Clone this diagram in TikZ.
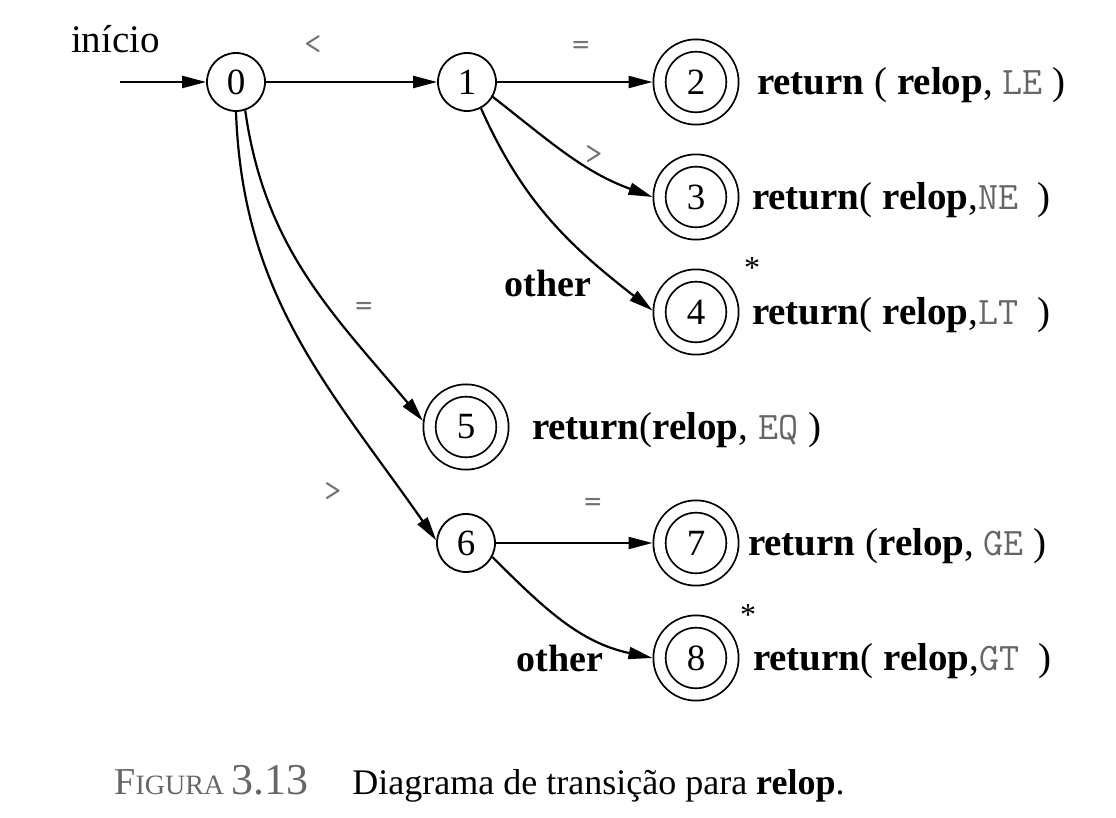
\documentclass[tikz,border=0pt]{standalone}
\usepackage{fontspec}
\setmainfont{Liberation Serif}
\usetikzlibrary{arrows.meta}

% token of the return value, in grey typewriter
\newcommand{\tok}[1]{{\color{black!60}\ttfamily #1}}

\begin{document}
\begin{tikzpicture}[x=0.5pt,y=-0.5pt,
    st/.style={draw,circle,line width=0.9pt,minimum size=29pt,inner sep=0pt,
               font=\fontsize{18.5}{20}\selectfont},
    fin/.style={st,double,double distance=5.2pt,minimum size=36.5pt,outer sep=3.5pt},
    tr/.style={line width=1.1pt,-{Triangle[length=12pt,width=6pt]}},
    sym/.style={text=black!55,font=\fontsize{17}{18}\selectfont\ttfamily},
    lbl/.style={anchor=base east,font=\fontsize{19}{22}\selectfont\bfseries},
    ret/.style={anchor=base west,font=\fontsize{19.5}{22}\selectfont}]
  \useasboundingbox (0,0) rectangle (1116,818);

  % states
  \node[st] (n0) at (236,82) {0};
  \node[st] (n1) at (467,82) {1};
  \node[fin] (n2) at (696,82) {2};
  \node[fin] (n3) at (696,197) {3};
  \node[fin] (n4) at (696,312) {4};
  \node[fin] (n5) at (466,427) {5};
  \node[st] (n6) at (466,543) {6};
  \node[fin] (n7) at (696,543) {7};
  \node[fin] (n8) at (696,658) {8};

  % start
  \node[anchor=base east,font=\fontsize{19.5}{22}\selectfont] (ini) at (167,53) {início};
  \coordinate (start) at (120,82);
  \draw[tr] (start) -- (n0);

  % transitions
  \draw[tr] (n0) -- (n1);
  \draw[tr] (n1) -- (n2);
  \draw[tr] (n1.-30) to[out=-38,in=160] (n3.180);
  \draw[tr] (n1.-62) to[out=-66,in=142] (n4.178);
  \draw[tr] (n0.-72) to[out=-82,in=130] (n5.172);
  \draw[tr] (n0.-90) to[out=-88,in=125] (n6.175);
  \draw[tr] (n6) -- (n7);
  \draw[tr] (n6.-28) to[out=-45,in=168] (n8.180);

  % edge labels
  \node[sym] (s01) at (313,45) {<};
  \node[sym] (s12) at (581,48) {=};
  \node[sym] (s13) at (594,155) {>};
  \node[lbl] (o14) at (598,297) {other};
  \node[sym] (s05) at (364,309) {=};
  \node[sym] (s06) at (333,492) {>};
  \node[sym] (s67) at (593,505) {=};
  \node[lbl] (o68) at (610,672) {other};

  % retract marks
  \node[font=\fontsize{16}{18}\selectfont] (a4) at (752,268) {*};
  \node[font=\fontsize{16}{18}\selectfont] (a8) at (748,615) {*};

  % actions
  \node[ret] (r2) at (750,95) {\textbf{return} ( \textbf{relop}, \tok{LE} )};
  \node[ret] (r3) at (745,210) {\textbf{return}( \textbf{relop},\tok{NE}\ \ )};
  \node[ret] (r4) at (745,325) {\textbf{return}( \textbf{relop},\tok{LT}\ \ )};
  \node[ret] (r5) at (525,440) {\textbf{return}(\textbf{relop}, \tok{EQ} )};
  \node[ret] (r7) at (741,556) {\textbf{return} (\textbf{relop}, \tok{GE} )};
  \node[ret] (r8) at (746,671) {\textbf{return}( \textbf{relop},\tok{GT}\ \ )};

  % caption
  \node[anchor=base west,text=black!60,inner sep=0pt] (fig) at (114,795)
    {\fontsize{19}{20}\selectfont F\fontsize{14}{20}\selectfont IGURA\ \fontsize{22}{20}\selectfont 3.13};
  \node[anchor=base west,inner sep=0pt,font=\fontsize{18}{20}\selectfont] (cap) at (352,795)
    {Diagrama de transição para \textbf{relop}.};
\end{tikzpicture}
\end{document}
